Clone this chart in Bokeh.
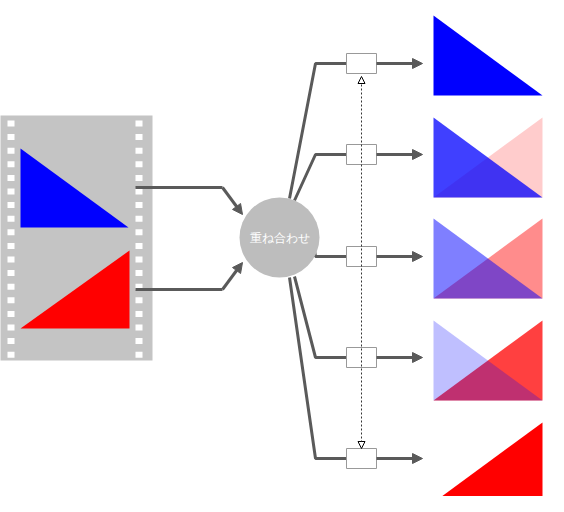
from bokeh.plotting import figure
from bokeh.models import Arrow, NormalHead, Range1d
from bokeh.embed import file_html
from bokeh.resources import INLINE

# film frames (left strip)
film = dict(x0=5, x1=160, y0=123, y1=368)
blue_src = ([28, 28, 136], [156, 235, 235])
red_src = ([28, 137, 137], [336, 258, 336])

# output panels: blue alpha, red alpha
panel_top = [23, 125, 226, 328, 430]
blue_alpha = [1.0, 0.75, 0.5, 0.25, 0.0]
red_alpha = [0.0, 0.2, 0.45, 0.75, 1.0]
panel_x0, panel_x1, panel_h = 441, 550, 80

box_y = [71, 162, 264, 365, 466]
circle_label = "重ね合わせ"
line_col = "#5a5a5a"

# ranges offset by the page margin so data units equal page pixels
p = figure(width=548, height=496, x_range=Range1d(8, 556), y_range=Range1d(504, 8),
           output_backend="svg", toolbar_location=None, min_border=0)
p.axis.visible = False
p.grid.visible = False
p.outline_line_color = None

# film strip
p.quad(left=film["x0"], right=film["x1"], top=film["y0"], bottom=film["y1"],
       fill_color="#c4c4c4", line_color=None)
hole_y = [128 + 13.6 * i for i in range(18)]
for hx in (15, 143):
    p.quad(left=hx, right=hx + 7, top=hole_y, bottom=[y + 6 for y in hole_y],
           fill_color="white", line_color=None)
p.patch(blue_src[0], blue_src[1], fill_color="blue", line_color=None)
p.patch(red_src[0], red_src[1], fill_color="red", line_color=None)

# inputs to circle
for yy, ty in ((195, 222), (297, 270)):
    p.line([143, 230], [yy, yy], line_color=line_col, line_width=3)
    p.add_layout(Arrow(end=NormalHead(size=10, fill_color=line_col, line_color=line_col),
                       x_start=230, y_start=yy, x_end=250, y_end=ty,
                       line_color=line_col, line_width=3))

# circle outputs to boxes
starts = [(297, 206), (302, 208), (322, 258), (302, 284), (297, 285)]
for (sx, sy), by in zip(starts, box_y):
    p.line([sx, 323, 354], [sy, by, by], line_color=line_col, line_width=3)
    p.add_layout(Arrow(end=NormalHead(size=10, fill_color=line_col, line_color=line_col),
                       x_start=384, y_start=by, x_end=430, y_end=by,
                       line_color=line_col, line_width=3))

p.ellipse(x=287, y=245, width=80, height=80, fill_color="#bdbdbd", line_color=None)
p.text(x=287, y=245, text=[circle_label], text_color="white", text_font_size="12px",
       text_align="center", text_baseline="middle", text_font="Noto Sans CJK JP")

# dotted control line
p.add_layout(Arrow(start=NormalHead(size=7, fill_color="white", line_color="black", line_width=1),
                   end=NormalHead(size=7, fill_color="white", line_color="black", line_width=1),
                   x_start=369, y_start=84, x_end=369, y_end=456,
                   line_color="#333333", line_width=1, line_dash="2 2"))

p.quad(left=354, right=384, top=[y - 10 for y in box_y], bottom=[y + 10 for y in box_y],
       fill_color="white", line_color="#999999", line_width=1)

# output panels
for top, ba, ra in zip(panel_top, blue_alpha, red_alpha):
    bot = top + panel_h
    if ra > 0:
        p.patch([panel_x1, panel_x1, panel_x0], [top, bot, bot], fill_color="red",
                fill_alpha=ra, line_color=None)
    if ba > 0:
        p.patch([panel_x0, panel_x0, panel_x1], [top, bot, bot], fill_color="blue",
                fill_alpha=ba, line_color=None)

open("out.html", "w").write(file_html(p, INLINE))
